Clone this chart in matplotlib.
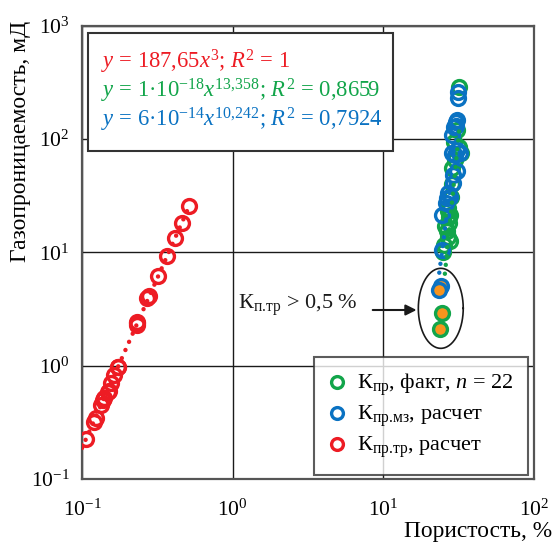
import numpy as np
import matplotlib
matplotlib.use("Agg")
import matplotlib.pyplot as plt
from matplotlib.lines import Line2D
from matplotlib.patches import Rectangle

plt.rcParams['font.family'] = ['Liberation Serif', 'DejaVu Serif']
plt.rcParams['mathtext.fontset'] = 'custom'
plt.rcParams['mathtext.rm'] = 'Liberation Serif'
plt.rcParams['mathtext.it'] = 'Liberation Serif:italic'
plt.rcParams['mathtext.bf'] = 'Liberation Serif:bold'

RED = '#ED1C24'
GREEN = '#12A54A'
BLUE = '#0A72C2'
ORANGE = '#F7941D'

# Fracture permeability (calculated): porosity %, permeability mD
red_x = [0.106, 0.121, 0.124, 0.133, 0.138, 0.140, 0.148, 0.150, 0.155, 0.163,
         0.174, 0.231, 0.233, 0.271, 0.280, 0.318, 0.368, 0.414, 0.459, 0.515,
         0.231, 0.174]
red_y = [0.225, 0.320, 0.343, 0.449, 0.497, 0.52, 0.589, 0.60, 0.706, 0.826,
         0.966, 2.36, 2.42, 3.93, 4.11, 6.18, 9.27, 13.3, 18.0, 25.6,
         2.30, 0.97]

# Measured permeability
green_x = [32.0, 31.9, 32.6, 31.0, 29.5, 30.0, 28.7, 28.5, 28.0, 27.0,
           26.8, 27.4, 27.8, 27.4, 26.5, 27.0, 27.8, 25.2, 24.7, 25.6]
green_y = [290, 85.5, 75, 120, 95, 65, 55, 40, 31, 24.4,
           23.0, 20.6, 21.5, 18.0, 15.5, 13.6, 12.5, 11.6, 10.1, 17.0]
green_fx = [24.6, 23.8]          # points with fracture porosity > 0.5 %
green_fy = [2.9, 2.09]

# Matrix permeability (calculated)
blue_x = [31.4, 31.4, 30.3, 30.3, 28.4, 28.4, 32.2, 30.9, 29.1, 27.0,
          26.0, 24.4, 24.4, 30.9, 29.5, 31.0, 29.9, 27.5, 26.3, 28.9]
blue_y = [261, 229, 142, 130, 108, 75, 75, 52.5, 41, 33.6,
          27, 21.3, 10.5, 148, 128, 80, 72, 31, 30, 48]
blue_fx = [24.1, 23.5]
blue_fy = [5.05, 4.7]

# Power-law trends y = a * x^b
red_a, red_b = 187.65, 3.0
green_a, green_b = 1e-18, 13.358
blue_a, blue_b = 6e-14, 10.242

fig = plt.figure(figsize=(5.54, 5.45), dpi=100)
ax = fig.add_axes([0.148, 0.1211, 0.816, 0.8317])
ax.set_xscale('log')
ax.set_yscale('log')
ax.set_xlim(0.1, 100)
ax.set_ylim(0.1, 1000)

ax.grid(True, which='major', color='#1a1a1a', lw=1.0)
ax.minorticks_off()
ax.tick_params(length=0, labelsize=15.5, pad=9)
ax.tick_params(axis='x', pad=15)
for s in ax.spines.values():
    s.set_color('#555555')
    s.set_linewidth(1.6)

mk = dict(ls='none', marker='o', ms=10, mew=2.4, mfc='none')
ax.plot(green_x, green_y, mec=GREEN, **mk, zorder=3)
ax.plot(blue_x, blue_y, mec=BLUE, **mk, zorder=3)
ax.plot(green_fx, green_fy, ls='none', marker='o', ms=10, mew=2.4,
        mec=GREEN, mfc=ORANGE, zorder=3)
ax.plot(blue_fx, blue_fy, ls='none', marker='o', ms=10, mew=2.4,
        mec=BLUE, mfc=ORANGE, zorder=3)
ax.plot(red_x, red_y, mec=RED, **mk, zorder=3)

dot = dict(ls=(0, (0.01, 2.0)), lw=3.2, dash_capstyle='round', zorder=4)
xr = np.logspace(np.log10(0.1), np.log10(0.52), 50)
ax.plot(xr, red_a * xr ** red_b, color=RED, **dot)
xb = np.logspace(np.log10(23.5), np.log10(31.0), 50)
ax.plot(xb, blue_a * xb ** blue_b, color=BLUE, **dot)
xg = np.logspace(np.log10(25.6), np.log10(32.0), 50)
ax.plot(xg, green_a * xg ** green_b, color=GREEN, **dot)

# ellipse around the points with high fracture porosity
t = np.linspace(0, 2 * np.pi, 200)
cx, cy, rx, ry = 1.381, 0.506, 0.149, 0.353
ax.plot(10 ** (cx + rx * np.cos(t)), 10 ** (cy + ry * np.sin(t)),
        color='#1a1a1a', lw=1.2, zorder=5)
ax.annotate('', xy=(16.6, 3.1), xytext=(8.5, 3.1),
            arrowprops=dict(arrowstyle='-|>', color='#1a1a1a', lw=1.5,
                            mutation_scale=16, shrinkA=0, shrinkB=0))
ax.text(1.08, 3.43, r'К$_{\mathrm{п.\!тр}}$ > 0,5 %', fontsize=16,
        ha='left', va='center', color='#1a1a1a')

# equation box
ax.add_patch(Rectangle((0.014, 0.7236), 0.674, 0.2604, transform=ax.transAxes,
                       facecolor='white', edgecolor='#333333', lw=1.5, zorder=6))
eqs = [
    (r'$y$ = 187,65$x^3$; $R^2$ = 1', RED, 0.921),
    (r'$y$ = 1·10$^{−18}$$x^{13{,}358}$; $R^2$ = 0,8659', GREEN, 0.857),
    (r'$y$ = 6·10$^{−14}$$x^{10{,}242}$; $R^2$ = 0,7924', BLUE, 0.793),
]
for txt, col, yy in eqs:
    ax.text(0.041, yy, txt, color=col, fontsize=16.3, transform=ax.transAxes,
            ha='left', va='center', zorder=7)

handles = [
    Line2D([], [], ls='none', marker='o', ms=8.5, mew=2.4, mfc='none', mec=GREEN),
    Line2D([], [], ls='none', marker='o', ms=8.5, mew=2.4, mfc='none', mec=BLUE),
    Line2D([], [], ls='none', marker='o', ms=8.5, mew=2.4, mfc='none', mec=RED),
]
labels = [r'К$_{\mathrm{пр}}$, факт, $n$ = 22',
          r'К$_{\mathrm{пр.\!мз}}$, расчет',
          r'К$_{\mathrm{пр.\!тр}}$, расчет']
leg = ax.legend(handles, labels, loc='lower right', bbox_to_anchor=(0.987, 0.009),
                fontsize=16, frameon=True, fancybox=False, handlelength=0.8,
                handletextpad=0.5, borderpad=0.65, labelspacing=0.25,
                borderaxespad=0)
leg.get_frame().set_edgecolor('#333333')
leg.get_frame().set_linewidth(1.5)
leg.set_zorder(8)

fig.text(21 / 554, 1 - 21 / 545, 'Газопроницаемость, мД', rotation=90,
         ha='center', va='top', fontsize=17)
fig.text(552 / 554, 1 - 531 / 545, 'Пористость, %', ha='right', va='center',
         fontsize=16.8)

fig.savefig('out.png', dpi=100)
